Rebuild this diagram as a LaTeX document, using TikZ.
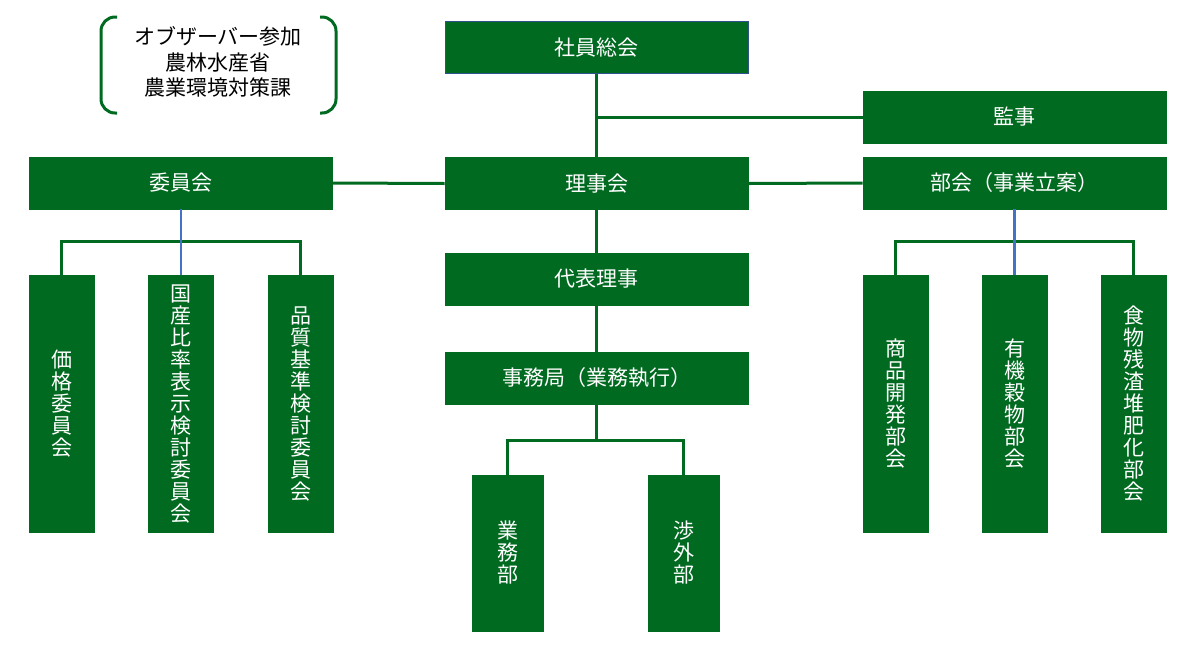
\documentclass[tikz,border=0pt]{standalone}
\usepackage{fontspec}
\setmainfont{Noto Sans CJK JP}
\definecolor{orggreen}{RGB}{0,106,32}
\definecolor{orgblue}{RGB}{68,114,196}
\definecolor{edgeblue}{RGB}{47,82,143}
\tikzset{
  hbox/.style={rectangle, fill=orggreen, draw=orggreen, line width=0.6pt, inner sep=0pt,
    minimum width=303pt, minimum height=52pt, text=white,
    font=\fontsize{21}{22}\selectfont},
  vbox/.style={rectangle, fill=orggreen, draw=orggreen, line width=0.6pt, inner sep=0pt,
    minimum width=65pt, minimum height=257pt, text=white, align=center,
    font=\fontsize{21}{22}\selectfont},
  gline/.style={draw=orggreen, line width=3pt},
  bline/.style={draw=orgblue, line width=2.8pt},
}
\begin{document}
\begin{tikzpicture}[x=1pt,y=-1pt]
\useasboundingbox (0,0) rectangle (1200,646);
% horizontal boxes
\node[hbox, draw=edgeblue] (soukai) at (596.5,47.5) {社員総会};
\node[hbox] (kanji) at (1014.5,117) {監事};
\node[hbox] (iinkai) at (181,183) {委員会};
\node[hbox] (rijikai) at (596.5,183.5) {理事会};
\node[hbox] (bukai) at (1014.5,183) {部会（事業立案）};
\node[hbox] (daihyo) at (596.5,279) {代表理事};
\node[hbox] (jimukyoku) at (596.5,378) {事務局（業務執行）};
% committee children
\node[vbox] (kakaku) at (61.5,403.5) {価\\格\\委\\員\\会};
\node[vbox] (kokusan) at (181,404) {国\\産\\比\\率\\表\\示\\検\\討\\委\\員\\会};
\node[vbox] (hinshitsu) at (300.5,403.5) {品\\質\\基\\準\\検\\討\\委\\員\\会};
% bukai children
\node[vbox] (shohin) at (895.5,403.5) {商\\品\\開\\発\\部\\会};
\node[vbox] (yuki) at (1014.5,403.5) {有\\機\\穀\\物\\部\\会};
\node[vbox] (shokumotsu) at (1133.5,403.5) {食\\物\\残\\渣\\堆\\肥\\化\\部\\会};
% jimukyoku children
\node[vbox, minimum width=71pt, minimum height=156pt] (gyomu) at (507.5,553) {業\\務\\部};
\node[vbox, minimum width=71pt, minimum height=156pt] (shogai) at (683.5,553) {渉\\外\\部};
% observer note
\node[align=center, font=\fontsize{21}{25.5}\selectfont] (observer) at (218,62) {オブザーバー参加\\農林水産省\\農業環境対策課};
\draw[orggreen, line width=3pt, rounded corners=14pt] (117,17) -- (101,17) -- (101,113) -- (117,113);
\draw[orggreen, line width=3pt, rounded corners=14pt] (320,17) -- (336,17) -- (336,113) -- (320,113);
% connectors
\coordinate (j1) at (596.5,117);
\draw[gline] (soukai.south) -- (rijikai.north);
\draw[gline] (j1) -- (kanji.west);
\draw[gline] (iinkai.east) -- (rijikai.west);
\draw[gline] (rijikai.east) -- (bukai.west);
\draw[gline] (rijikai.south) -- (daihyo.north);
\draw[gline] (daihyo.south) -- (jimukyoku.north);
% committee tree
\coordinate (b1) at (181,241);
\draw[gline] (kakaku.north) |- (b1) -| (hinshitsu.north);
\draw[bline] (iinkai.south) -- (kokusan.north);
% bukai tree
\coordinate (b2) at (1014.5,241);
\draw[gline] (shohin.north) |- (b2) -| (shokumotsu.north);
\draw[bline] (bukai.south) -- (yuki.north);
% jimukyoku tree
\coordinate (b3) at (596.5,440);
\draw[gline] (jimukyoku.south) -- (b3);
\draw[gline] (gyomu.north) |- (b3) -| (shogai.north);
\end{tikzpicture}
\end{document}
